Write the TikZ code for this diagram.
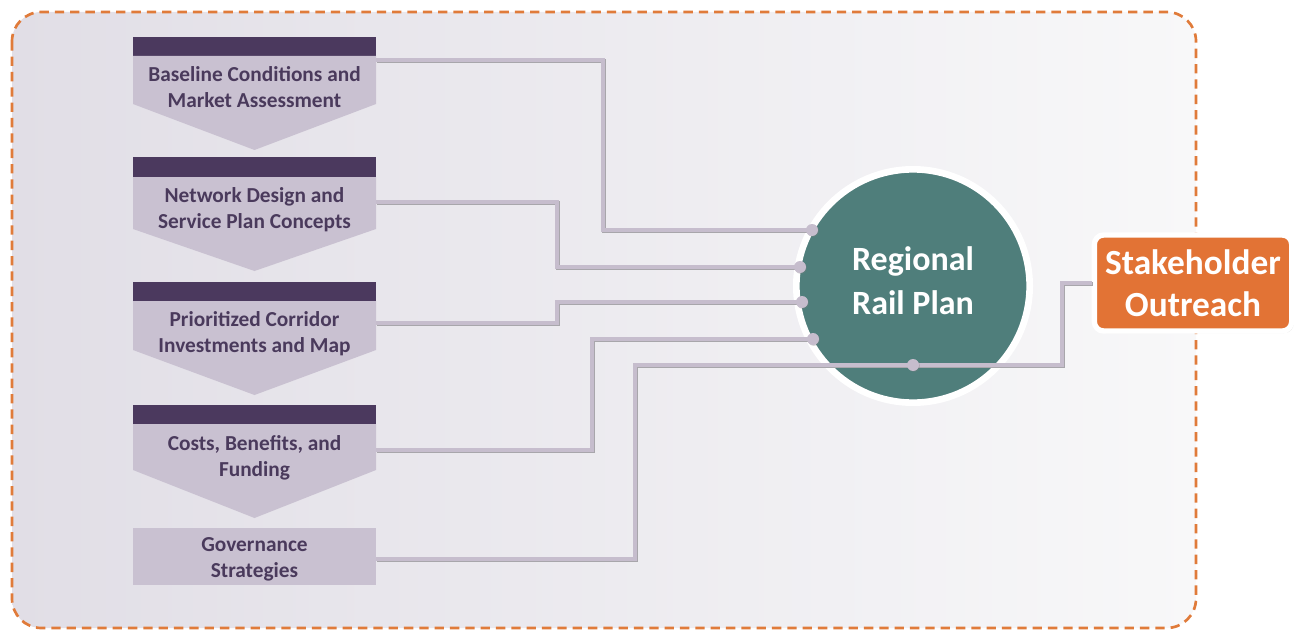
\documentclass[tikz,border=0pt]{standalone}
\usepackage{fontspec}
\setmainfont{Carlito}
\usetikzlibrary{shadows,calc}
\definecolor{barc}{HTML}{4B395E}
\definecolor{boxc}{HTML}{C9C1D1}
\definecolor{txtc}{HTML}{4A3A5C}
\definecolor{connc}{HTML}{C6BDCD}
\definecolor{shadc}{HTML}{A8A6AB}
\definecolor{tealc}{HTML}{4F7E7B}
\definecolor{orngc}{HTML}{E27335}
\definecolor{dashc}{HTML}{E07B3A}
\definecolor{bgl}{HTML}{E1DEE6}
\definecolor{bgr}{HTML}{F8F8F9}
\begin{document}
\begin{tikzpicture}[x=0.75pt,y=-0.75pt,
  boxtext/.style={text=txtc, font=\bfseries\fontsize{16}{19.5}\selectfont, align=center,
    minimum width=182.25pt, minimum height=30pt, inner sep=0pt},
  conn/.style={draw=connc, line width=3.2pt,
    preaction={draw=shadc, line width=3.2pt, transform canvas={shift={(0.9pt,-0.9pt)}}}},
  dotc/.style={circle, fill=connc, minimum size=9pt, inner sep=0pt, drop shadow={shadow xshift=0.6pt, shadow yshift=-0.6pt, opacity=0.35}},
]
\useasboundingbox (0,0) rectangle (1301,631);
% background frame
\shade[left color=bgl, right color=bgr, rounded corners=22pt] (12,12) rectangle (1196,628);
\draw[dashc, line width=2pt, dash pattern=on 7pt off 4.5pt, rounded corners=22pt] (12,12) rectangle (1196,628);
% step shapes
\fill[barc] (133,37) rectangle (376,56);
\fill[boxc] (133,56) -- (376,56) -- (376,104) -- (254.5,150) -- (133,104) -- cycle;
\fill[barc] (133,157) rectangle (376,177);
\fill[boxc] (133,177) -- (376,177) -- (376,229) -- (254.5,271) -- (133,229) -- cycle;
\fill[barc] (133,282) rectangle (376,301);
\fill[boxc] (133,301) -- (376,301) -- (376,350) -- (254.5,395) -- (133,350) -- cycle;
\fill[barc] (133,405) rectangle (376,424);
\fill[boxc] (133,424) -- (376,424) -- (376,470) -- (254.5,518) -- (133,470) -- cycle;
\fill[boxc] (133,528) rectangle (376,585);
% step texts
\node[boxtext] (b1) at (254.5,87) {Baseline Conditions and\\Market Assessment};
\node[boxtext] (b2) at (254.5,209.5) {Network Design and\\Service Plan Concepts};
\node[boxtext] (b3) at (254.5,333.5) {Prioritized Corridor\\Investments and Map};
\node[boxtext] (b4) at (254.5,457.5) {Costs, Benefits, and\\Funding};
\node[boxtext] (b5) at (254.5,559) {Governance\\Strategies};
% centre circle
\node[circle, fill=tealc, draw=white, line width=5pt, minimum size=175pt, inner sep=0pt,
  drop shadow={shadow xshift=1.5pt, shadow yshift=-1.5pt, opacity=0.3}] (rrp) at (913,286) {};
\node[text=white, font=\bfseries\fontsize{25.5}{33}\selectfont, align=center] (rrpt) at (913,281) {Regional\\Rail Plan};
% stakeholder box
\node[rectangle, rounded corners=7pt, fill=orngc, draw=white, line width=4pt,
  minimum width=148pt, minimum height=72pt, inner sep=0pt,
  drop shadow={shadow xshift=1.5pt, shadow yshift=-1.5pt, opacity=0.3},
  text=white, font=\bfseries\fontsize{26.5}{31.5}\selectfont, align=center] (so) at (1193,283) {Stakeholder\\Outreach};
% connector end points
\coordinate (d1) at (812,230);
\coordinate (d2) at (800,267);
\coordinate (d3) at (802,302);
\coordinate (d4) at (813,339);
\coordinate (d5) at (913,365);
% connectors
\draw[conn] ($(b1.east)+(0,-27)$) -- (603,60) |- (d1);
\draw[conn] ($(b2.east)+(0,-7.5)$) -- (557,202) |- (d2);
\draw[conn] ($(b3.east)+(0,-10.5)$) -- (557,323) |- (d3);
\draw[conn] ($(b4.east)+(0,-7.5)$) -- (592,450) |- (d4);
\draw[conn] (b5.east) -| (635,365) -- (d5) -- (1062,365) |- (so.west);
% dots
\node[dotc] (p1) at (d1) {};
\node[dotc] (p2) at (d2) {};
\node[dotc] (p3) at (d3) {};
\node[dotc] (p4) at (d4) {};
\node[dotc] (p5) at (d5) {};
\end{tikzpicture}
\end{document}
